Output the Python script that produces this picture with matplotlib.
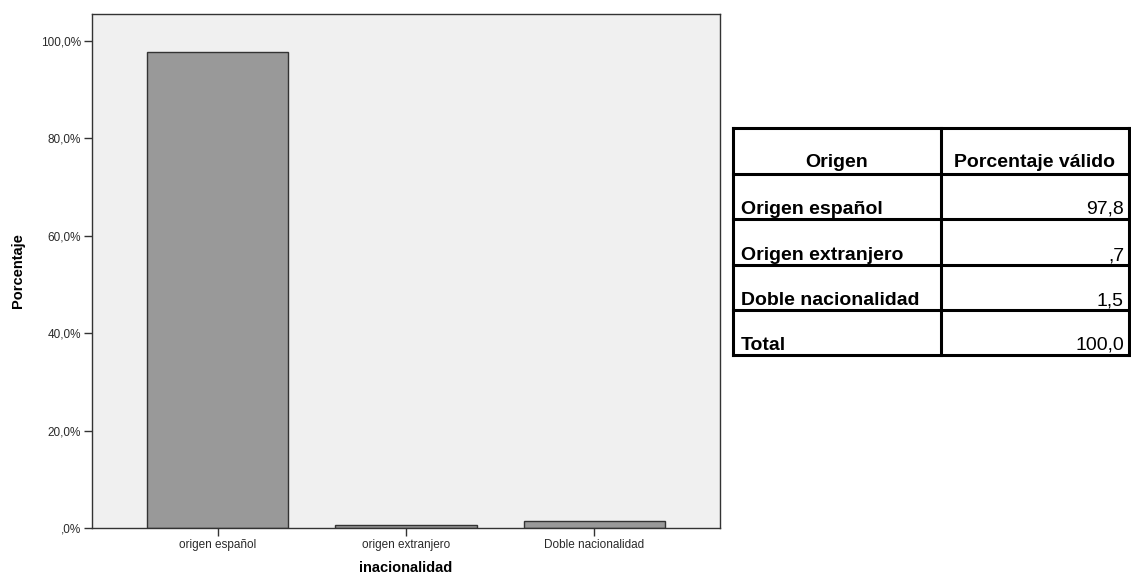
import matplotlib
matplotlib.use('Agg')
import matplotlib.pyplot as plt
from matplotlib.lines import Line2D

# datos
categorias = ['origen español', 'origen extranjero', 'Doble nacionalidad']
porcentajes = [97.8, 0.7, 1.5]
yticks = [0, 20, 40, 60, 80, 100]
ytick_labels = [',0%', '20,0%', '40,0%', '60,0%', '80,0%', '100,0%']

tabla_cab = ['Origen', 'Porcentaje válido']
tabla_filas = ['Origen español', 'Origen extranjero', 'Doble nacionalidad', 'Total']
tabla_vals = ['97,8', ',7', '1,5', '100,0']

W, H = 1131, 581
fig = plt.figure(figsize=(W / 100, H / 100), dpi=100)
plt.rcParams['font.family'] = ['Liberation Sans', 'DejaVu Sans']

ax = fig.add_axes([92 / W, 1 - 528 / H, (720 - 92) / W, (528 - 14) / H])
ax.set_facecolor('#f0f0f0')
x = range(len(categorias))
ax.bar(x, porcentajes, width=0.75, color='#999999', edgecolor='#333333', linewidth=1)
ax.set_xlim(-0.667, 2.667)
ax.set_ylim(0, 105.5)
ax.set_xticks(list(x))
ax.set_xticklabels(categorias, fontsize=8.5, color='#2a2a2a')
ax.set_yticks(yticks)
ax.set_yticklabels(ytick_labels, fontsize=8.5, color='#2a2a2a')
ax.tick_params(direction='out', length=6, width=1, color='#333333', pad=2)
for s in ax.spines.values():
    s.set_color('#333333')
    s.set_linewidth(1)
ax.set_ylabel('Porcentaje', fontsize=10.5, fontweight='bold', labelpad=11)
ax.set_xlabel('inacionalidad', fontsize=10.5, fontweight='bold', labelpad=7)

# tabla a la derecha (coordenadas en pixeles)
def fx(px):
    return px / W

def fy(py):
    return 1 - py / H

left, mid, right = 733, 941, 1129
rows_y = [128, 174, 219, 265, 310, 355]
lw = 2.2
for yy in rows_y:
    fig.add_artist(Line2D([fx(left), fx(right)], [fy(yy), fy(yy)], color='black', lw=lw))
for xx in [left, mid, right]:
    fig.add_artist(Line2D([fx(xx), fx(xx)], [fy(rows_y[0]), fy(rows_y[-1])], color='black', lw=lw))

fam = ['Liberation Sans Narrow', 'Liberation Sans', 'DejaVu Sans']
fs = 14
fig.text(fx((left + mid) / 2), fy(rows_y[1] - 7), tabla_cab[0], ha='center', va='baseline',
         fontsize=fs, fontweight='bold', family=fam)
fig.text(fx((mid + right) / 2), fy(rows_y[1] - 7), tabla_cab[1], ha='center', va='baseline',
         fontsize=fs, fontweight='bold', family=fam)
for i, (nom, val) in enumerate(zip(tabla_filas, tabla_vals)):
    yb = rows_y[i + 2] - 5
    fig.text(fx(left + 8), fy(yb), nom, ha='left', va='baseline',
             fontsize=fs, fontweight='bold', family=fam)
    fig.text(fx(right - 5), fy(yb), val, ha='right', va='baseline',
             fontsize=fs, family=fam)

fig.savefig('out.png', dpi=100)
